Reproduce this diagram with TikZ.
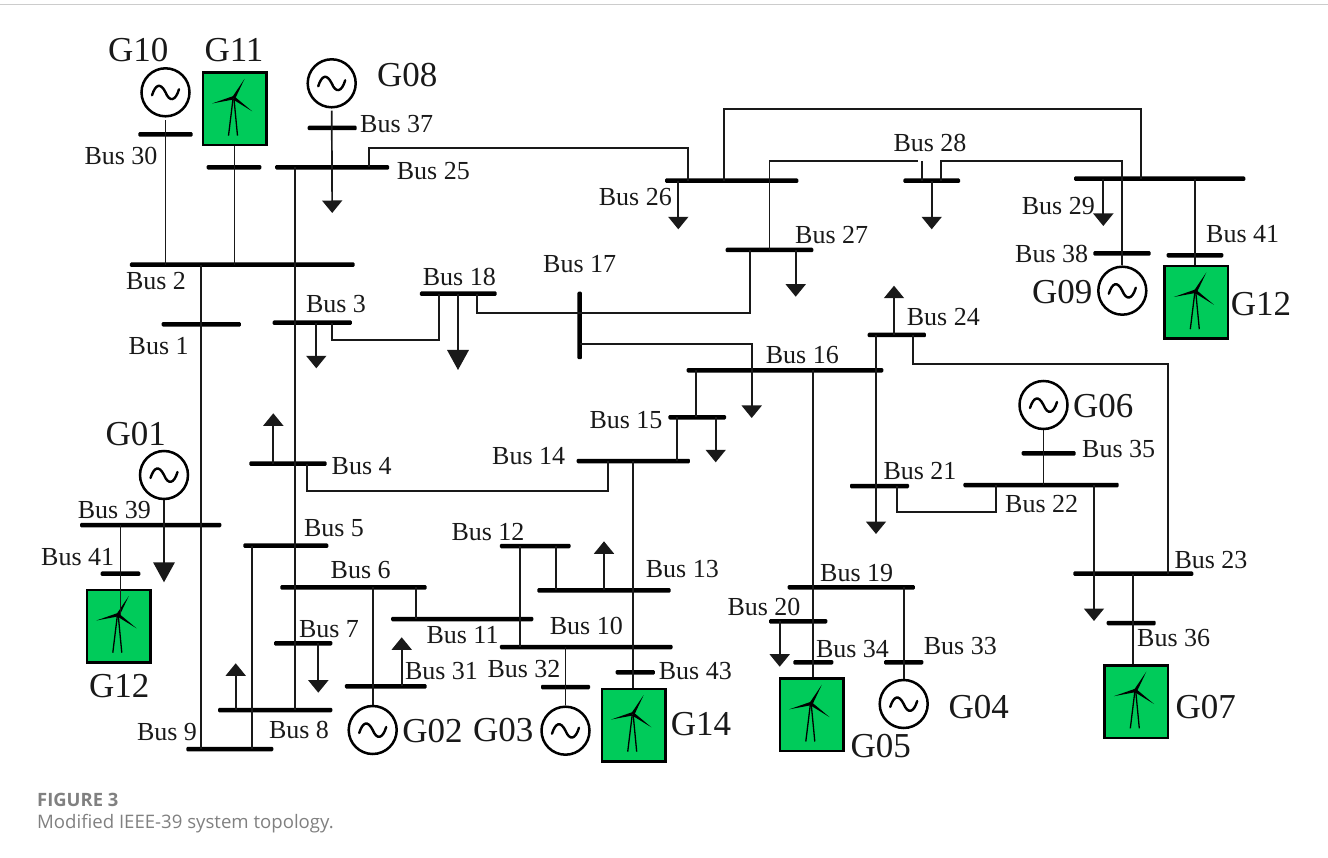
\documentclass[tikz,border=0pt]{standalone}
\usepackage{fontspec}
\setmainfont{Liberation Serif}
\newfontfamily\capfont{Open Sans}
\usepackage{xcolor}
\usetikzlibrary{arrows.meta}
\definecolor{windgreen}{HTML}{00CB5A}
\definecolor{capgray}{HTML}{808080}

\begin{document}
\begin{tikzpicture}[x=1pt, y=-1pt,
  bus/.style={fill=black, inner sep=0pt, minimum height=4.5pt, rounded corners=1.2pt},
  wire/.style={line width=1.7pt, black!90},
  load/.style={wire, -{Triangle[width=20pt, length=12.5pt]}},
  bigload/.style={wire, -{Triangle[width=21.5pt, length=20pt]}},
  lab/.style={inner sep=0pt, font=\fontsize{26}{28}\selectfont, text=black!90},
  glab/.style={inner sep=0pt, font=\fontsize{35}{38}\selectfont, text=black!90},
  gen/.style={circle, draw, line width=2.5pt, fill=white, minimum size=48pt, inner sep=0pt,
    path picture={
      \draw[line width=2.4pt, line cap=round, shift={(path picture bounding box.center)}]
        (-13.5,3) .. controls (-10,-8) and (-5,-10) .. (0,0) .. controls (4,10) and (10,9) .. (13.5,-3);
    }},
  wind/.style={rectangle, draw, line width=2.5pt, fill=windgreen, minimum width=63.5pt, minimum height=72.5pt, inner sep=0pt,
    path picture={
      \begin{scope}[shift={(path picture bounding box.center)}]
        \fill[black] (-2.5,-11.5) -- (10,-30) -- (0.5,-10) -- cycle;
        \fill[black] (-1,-13) -- (-22.5,-5.5) -- (-1,-9.5) -- cycle;
        \fill[black] (0,-12.5) -- (17.7,2.3) -- (-1.5,-9.5) -- cycle;
        \draw[line width=1.3pt] (-1.5,-10) -- (-6,26.7);
        \draw[line width=1.3pt] (-0.5,-10) -- (3,26.7);
      \end{scope}
    }},
  caphead/.style={anchor=west, inner sep=0pt, text=capgray, font=\capfont\bfseries\fontsize{18.4}{20}\selectfont},
  captext/.style={anchor=west, inner sep=0pt, text=capgray, font=\capfont\fontsize{18.6}{20}\selectfont},
]
\useasboundingbox (0,0) rectangle (1328,858);
\draw[line width=1.5pt, black!20] (0,4.5) -- (1328,4.5);

% === Buses, left part ===
\node[bus, minimum width=54.4pt] (b30) at (165.5,134.5) {};
\node[bus, minimum width=54.6pt] (b11g) at (234,167.3) {};
\node[bus, minimum width=114pt] (b25) at (332.2,167.3) {};
\node[bus, minimum width=49pt] (b37) at (332.2,128) {};
\node[bus, minimum width=224.7pt] (b2) at (242.3,264.7) {};
\node[bus, minimum width=79.3pt] (b1) at (201.3,324.3) {};
\node[bus, minimum width=79.3pt] (b3) at (312.3,322.7) {};
\node[bus, minimum width=76.7pt] (b18) at (458.3,293.7) {};
\node[bus, minimum width=77.4pt] (b4) at (288,463.7) {};
\node[bus, minimum width=141.3pt] (b39) at (150.7,525) {};
\node[bus, minimum width=39.6pt] (b41l) at (120.5,573.7) {};
\node[bus, minimum width=85pt] (b5) at (285.8,545.7) {};
\node[bus, minimum width=146.4pt] (b6) at (353.5,587.3) {};
\node[bus, minimum width=58.3pt] (b7) at (303.2,643.3) {};
\node[bus, minimum width=114.3pt] (b8) at (275.2,710) {};
\node[bus, minimum width=87pt] (b9) at (229.8,749) {};
\node[bus, minimum width=81.7pt] (b31) at (385.8,686.3) {};

% === Buses, middle part ===
\node[bus, minimum width=142.3pt] (b11) at (462.2,619) {};
\node[bus, minimum width=70.7pt] (b12) at (535.3,546) {};
\node[bus, minimum width=133.4pt] (b13) at (604,590.3) {};
\node[bus, minimum width=172.7pt] (b10) at (586.3,647) {};
\node[bus, minimum width=49pt] (b32) at (565.5,687) {};
\node[bus, minimum width=39.3pt] (b43) at (635.3,672.3) {};
\node[bus, minimum width=113.3pt] (b14) at (633.3,461) {};
\node[bus, minimum width=57.7pt] (b15) at (697.2,417.3) {};
\node[bus, minimum width=196.6pt] (b16) at (785,370.3) {};
\node[bus, minimum width=4.5pt, minimum height=67.5pt] (b17) at (579.7,325.5) {};
\node[bus, minimum width=133.3pt] (b26) at (731.7,180.7) {};
\node[bus, minimum width=87.6pt] (b27) at (769.5,250) {};
\node[bus, minimum width=127.3pt] (b19) at (851.3,587.3) {};
\node[bus, minimum width=58.3pt] (b20) at (798.2,621.3) {};
\node[bus, minimum width=40pt] (b34) at (813.3,662.3) {};
\node[bus, minimum width=39.3pt] (b33) at (903.7,662.3) {};

% === Buses, right part ===
\node[bus, minimum width=56.7pt] (b28) at (931.7,180.7) {};
\node[bus, minimum width=171.3pt] (b29) at (1159.7,178.7) {};
\node[bus, minimum width=57.4pt] (b38) at (1122,253.3) {};
\node[bus, minimum width=56.6pt] (b41r) at (1195,255.3) {};
\node[bus, minimum width=58.3pt] (b24) at (896.8,335) {};
\node[bus, minimum width=59pt] (b21) at (879.5,486) {};
\node[bus, minimum width=155.4pt] (b22) at (1041,485) {};
\node[bus, minimum width=54pt] (b35) at (1048.7,453.3) {};
\node[bus, minimum width=120pt] (b23) at (1133.3,573.7) {};
\node[bus, minimum width=49pt] (b36) at (1131.2,623) {};

% === Generators ===
\node[gen] (g10) at (165.5,92.3) {};
\node[gen] (g08) at (331.7,83.3) {};
\node[gen] (g01) at (164,475) {};
\node[gen] (g02) at (372.7,730) {};
\node[gen] (g03) at (565.5,730.7) {};
\node[gen] (g04) at (903.7,704) {};
\node[gen] (g06) at (1043.5,405) {};
\node[gen] (g09) at (1122.3,290.7) {};

% === Wind farms ===
\node[wind] (g11) at (234.5,109) {};
\node[wind] (g12l) at (118.8,626) {};
\node[wind] (g14) at (633.7,725) {};
\node[wind] (g05) at (811.8,714.8) {};
\node[wind] (g07) at (1136.3,701.7) {};
\node[wind] (g12r) at (1196.3,302.5) {};

% === Load tips ===
\coordinate (l25) at (332.2,213);
\coordinate (l3) at (316.3,368.3);
\coordinate (l18) at (458,370);
\coordinate (l16) at (751.7,418);
\coordinate (l26) at (678.3,229.3);
\coordinate (l27) at (795.7,296.7);
\coordinate (l28) at (931.7,229.3);
\coordinate (l29) at (1103.3,226);
\coordinate (l24) at (894,285.7);
\coordinate (l21) at (876,534);
\coordinate (l15) at (715.7,462.3);
\coordinate (l4) at (273.3,413.3);
\coordinate (l39) at (164,582.3);
\coordinate (l7) at (318.3,692.7);
\coordinate (l8) at (235.7,663.3);
\coordinate (l31) at (401.7,637.3);
\coordinate (l13) at (604,541.3);
\coordinate (l20) at (779.7,666.7);
\coordinate (l23) at (1094,621);

% === Lines, left part ===
\draw[wire] ([yshift=-2.5pt]g10.south) -- (b2 -| g10);
\draw[wire] (g11.south) -- (b2 -| g11);
\draw[wire] ([xshift=-37.5pt]b25.center) -- ([xshift=19.5pt]b8.center);
\draw[wire] (b2 -| b1) -- (b9 -| b1);
\draw[wire] ([xshift=19.7pt]b3.center) -- ++(0,17.6) -| ([xshift=-19pt]b18.center);
\draw[wire] ([xshift=18.4pt]b18.center) |- ([yshift=12.5pt]b17.center);
\draw[wire] ([xshift=18.7pt]b4.center) -- ++(0,27) -| ([xshift=-25pt]b14.center);
\draw[wire] (b39 -| b41l) -- ([yshift=11pt]g12l.center -| b41l);
\draw[wire] ([xshift=-33.8pt]b5.center) -- ([xshift=22.2pt]b9.center);
\draw[wire] (b6 -| g02) -- (g02.north);
\draw[wire] ([xshift=62.8pt]b6.center) -- ([xshift=-45.9pt]b11.center);

% === Lines, middle part ===
\draw[wire] ([xshift=-15.3pt]b12.center) -- ([xshift=-66.3pt]b10.center);
\draw[wire] ([xshift=20.4pt]b12.center) -- ([xshift=-48.3pt]b13.center);
\draw[wire] (b10 -| g03) -- (g03.north);
\draw[wire] (b14.center) -- (g14.north -| b14);
\draw[wire] ([xshift=-1.5pt]b15.center) -- ([xshift=-89.3pt]b16.center);
\draw[wire] ([xshift=-20.2pt]b15.center) -- ([xshift=43.7pt]b14.center);
\draw[wire] (b16 -| b34) -- (g05.north -| b34);
\draw[wire] (b19 -| g04) -- (g04.north);
\draw[wire] ([yshift=12.5pt]b17.center) -| ([xshift=-19.5pt]b27.center);
\draw[wire] ([xshift=37.1pt]b25.center) -- ++(0,-19.6) -| ([xshift=-43.7pt]b26.center);
\draw[wire] ([xshift=-7.7pt]b26.center) -- ++(0,-71.4) -| ([xshift=-19pt]b29.center);

% === Lines, right part ===
\draw[wire] (b27.center) |- ([shift={(-13.7,-19.7)}]b28.center);
\draw[wire] ([xshift=-10pt]b28.center) -- ++(0,-19.7);
\draw[wire] ([xshift=9pt]b28.center) -- ++(0,-19.7) -| (g09.north);
\draw[wire] (b29 -| b41r) -- (g12r.north -| b41r);
\draw[wire] ([xshift=16.5pt]b24.center) -- ++(0,29.3) -| ([xshift=34.4pt]b23.center);
\draw[wire] ([xshift=17.5pt]b21.center) -- ++(0,26) -| ([xshift=-44.7pt]b22.center);
\draw[wire] (g06.south) -- (b22 -| g06);
\draw[wire] (b23.center) -- (g07.north -| b23);

% === Loads ===
\draw[load] ([yshift=-2pt]g08.south) -- (l25);
\draw[load] (b3 -| l3) -- (l3);
\draw[bigload] (b18 -| l18) -- (l18);
\draw[bigload] (g01.south) -- (l39);
\draw[load] ([yshift=-18.2pt]b17.center) -| (l16);
\draw[load] (b26 -| l26) -- (l26);
\draw[load] (b27 -| l27) -- (l27);
\draw[load] (b28 -| l28) -- (l28);
\draw[load] (b29 -| l29) -- (l29);
\draw[load] (b24 -| l24) -- (l24);
\draw[load] (b24 -| l21) -- (l21);
\draw[load] (b15 -| l15) -- (l15);
\draw[load] (b4 -| l4) -- (l4);
\draw[load] (b7 -| l7) -- (l7);
\draw[load] (b8 -| l8) -- (l8);
\draw[load] (b31 -| l31) -- (l31);
\draw[load] (b13 -| l13) -- (l13);
\draw[load] (b20 -| l20) -- (l20);
\draw[load] (b22 -| l23) -- (l23);

% === Bus labels ===
\node[lab] (t30) at (121,155.7) {Bus 30};
\node[lab] (t37) at (396.7,124) {Bus 37};
\node[lab] (t25) at (433.3,170.7) {Bus 25};
\node[lab] (t2) at (156,281) {Bus 2};
\node[lab] (t18) at (459.3,277.3) {Bus 18};
\node[lab] (t3) at (336,304.3) {Bus 3};
\node[lab] (t1) at (158.7,345.7) {Bus 1};
\node[lab] (t4) at (361.7,465.7) {Bus 4};
\node[lab] (t39) at (114.3,510) {Bus 39};
\node[lab] (t5) at (334,528) {Bus 5};
\node[lab] (t41l) at (77.7,557.3) {Bus 41};
\node[lab] (t6) at (360.7,569.7) {Bus 6};
\node[lab] (t7) at (329,629) {Bus 7};
\node[lab] (t9) at (167,731.7) {Bus 9};
\node[lab] (t8) at (299,730) {Bus 8};
\node[lab] (t31) at (441.5,671.3) {Bus 31};
\node[lab] (t11) at (462.5,634.7) {Bus 11};
\node[lab] (t15) at (626,419.7) {Bus 15};
\node[lab] (t14) at (528.7,455.7) {Bus 14};
\node[lab] (t12) at (488,532.3) {Bus 12};
\node[lab] (t13) at (682.3,569) {Bus 13};
\node[lab] (t10) at (586.3,626.3) {Bus 10};
\node[lab] (t32) at (524,669.3) {Bus 32};
\node[lab] (t43) at (695.3,670.7) {Bus 43};
\node[lab] (t20) at (764,606.7) {Bus 20};
\node[lab] (t34) at (852.5,649.3) {Bus 34};
\node[lab] (t28) at (930,142.7) {Bus 28};
\node[lab] (t29) at (1058.3,205.7) {Bus 29};
\node[lab] (t41r) at (1242.7,234.3) {Bus 41};
\node[lab] (t38) at (1051.7,253.7) {Bus 38};
\node[lab] (t24) at (943.3,316.7) {Bus 24};
\node[lab] (t26) at (635.3,196.7) {Bus 26};
\node[lab] (t27) at (831.7,235.3) {Bus 27};
\node[lab] (t17) at (579.7,264) {Bus 17};
\node[lab] (t16) at (802.3,355.3) {Bus 16};
\node[lab] (t35) at (1118.7,449) {Bus 35};
\node[lab] (t21) at (920,470.7) {Bus 21};
\node[lab] (t22) at (1041.7,504) {Bus 22};
\node[lab] (t23) at (1211,560) {Bus 23};
\node[lab] (t19) at (856.7,573.3) {Bus 19};
\node[lab] (t36) at (1173.7,638) {Bus 36};
\node[lab] (t33) at (960.3,646) {Bus 33};

% === Generator labels ===
\node[glab] (tg10) at (138.3,50) {G10};
\node[glab] (tg11) at (234,50) {G11};
\node[glab] (tg08) at (407.3,74.7) {G08};
\node[glab] (tg01) at (135.7,434.3) {G01};
\node[glab] (tg12l) at (119.3,686) {G12};
\node[glab] (tg02) at (432.5,731) {G02};
\node[glab] (tg03) at (503.3,730) {G03};
\node[glab] (tg14) at (701,724) {G14};
\node[glab] (tg05) at (880.7,746) {G05};
\node[glab] (tg04) at (978.7,707.3) {G04};
\node[glab] (tg07) at (1205.7,706.7) {G07};
\node[glab] (tg06) at (1103.3,406) {G06};
\node[glab] (tg09) at (1062.3,292.3) {G09};
\node[glab] (tg12r) at (1261,304.3) {G12};

% === Caption ===
\node[caphead] (fig) at (37,800) {FIGURE 3};
\node[captext] (cap) at (37,824) {Modified IEEE-39 system topology.};

\end{tikzpicture}
\end{document}
